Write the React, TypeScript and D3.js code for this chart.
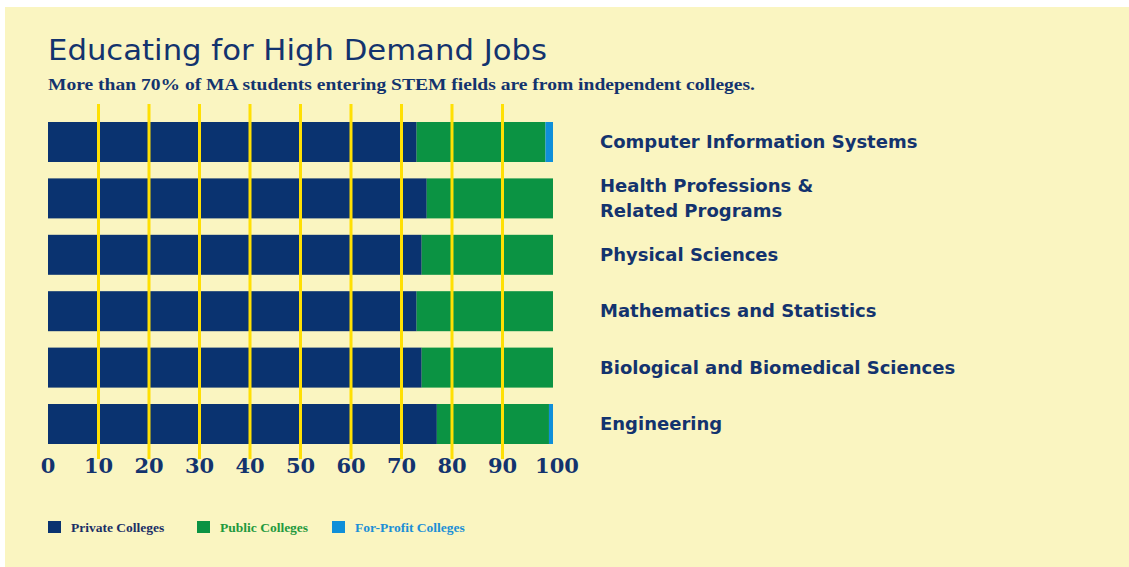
import React from "react";
import * as d3 from "d3";

const categories = [
  "Computer Information Systems",
  "Health Professions & Related Programs",
  "Physical Sciences",
  "Mathematics and Statistics",
  "Biological and Biomedical Sciences",
  "Engineering",
];
const categoryLines = [
  ["Computer Information Systems"],
  ["Health Professions &", "Related Programs"],
  ["Physical Sciences"],
  ["Mathematics and Statistics"],
  ["Biological and Biomedical Sciences"],
  ["Engineering"],
];
const privateShare = [73, 75, 74, 73, 74, 77];
const publicShare = [25.5, 25, 26, 27, 26, 22.2];
const forProfitShare = [1.5, 0, 0, 0, 0, 0.8];
const tickValues = [0, 10, 20, 30, 40, 50, 60, 70, 80, 90, 100];
const seriesKeys = ["private", "public", "forprofit"];
const seriesLabels = ["Private Colleges", "Public Colleges", "For-Profit Colleges"];

const COLORS: Record<string, string> = {
  private: "#0a3370",
  public: "#0b9343",
  forprofit: "#0f8fd9",
};
const LEGEND_TEXT: Record<string, string> = {
  private: "#1b2f66",
  public: "#1f9a3e",
  forprofit: "#1c8fd6",
};
const NAVY = "#13336e";
const BG = "#faf5c1";
const GRID = "#ffe003";

export default function App() {
  const W = 1129;
  const H = 567;
  const x = d3.scaleLinear().domain([0, 100]).range([48, 553]);
  const y = d3
    .scaleBand<string>()
    .domain(categories)
    .range([122, 444])
    .paddingInner(0.2908)
    .paddingOuter(0);

  const rows = categories.map((c, i) => ({
    category: c,
    private: privateShare[i],
    public: publicShare[i],
    forprofit: forProfitShare[i],
  }));
  const stacked = d3.stack<any>().keys(seriesKeys)(rows);

  const legendX = [48, 197, 332];

  return (
    <svg
      width={W}
      height={H}
      style={{ position: "absolute", left: 0, top: 0, display: "block" }}
    >
      <rect x={0} y={0} width={W} height={H} fill="#ffffff" />
      <rect x={5} y={7} width={W - 5} height={H - 7} fill={BG} />

      <text
        x={48}
        y={60}
        fontFamily="DejaVu Sans"
        fontSize={29}
        fill={NAVY}
        textLength={499}
        lengthAdjust="spacingAndGlyphs"
      >
        Educating for High Demand Jobs
      </text>
      <text
        x={48}
        y={90}
        fontFamily="Liberation Serif"
        fontWeight="bold"
        fontSize={16}
        fill={NAVY}
        textLength={707}
        lengthAdjust="spacingAndGlyphs"
      >
        More than 70% of MA students entering STEM fields are from independent colleges.
      </text>

      {stacked.map((s) => (
        <g key={s.key} fill={COLORS[s.key]}>
          {s.map((d, i) => (
            <rect
              key={i}
              x={x(d[0])}
              y={y(categories[i])}
              width={Math.max(0, x(d[1]) - x(d[0]))}
              height={y.bandwidth()}
            />
          ))}
        </g>
      ))}

      {tickValues
        .filter((t) => t > 0 && t < 100)
        .map((t) => (
          <line
            key={t}
            x1={x(t)}
            x2={x(t)}
            y1={104}
            y2={459}
            stroke={GRID}
            strokeWidth={3}
          />
        ))}

      {tickValues.map((t) => (
        <text
          key={t}
          x={x(t) + (t === 100 ? 4 : 0)}
          y={473}
          textAnchor="middle"
          fontFamily="DejaVu Serif"
          fontWeight="bold"
          fontSize={21}
          fill={NAVY}
        >
          {t}
        </text>
      ))}

      {categories.map((c, i) => {
        const lines = categoryLines[i];
        const cy = (y(c) as number) + y.bandwidth() / 2 + 6;
        const start = cy - ((lines.length - 1) * 25) / 2;
        return (
          <text
            key={c}
            x={600}
            fontFamily="DejaVu Sans"
            fontWeight="bold"
            fontSize={18}
            fill={NAVY}
          >
            {lines.map((ln, j) => (
              <tspan key={j} x={600} y={start + j * 25}>
                {ln}
              </tspan>
            ))}
          </text>
        );
      })}

      {seriesKeys.map((k, i) => (
        <g key={k}>
          <rect x={legendX[i]} y={521} width={13} height={12} fill={COLORS[k]} />
          <text
            x={legendX[i] + 23}
            y={531.5}
            fontFamily="Liberation Serif"
            fontWeight="bold"
            fontSize={13.5}
            fill={LEGEND_TEXT[k]}
          >
            {seriesLabels[i]}
          </text>
        </g>
      ))}
    </svg>
  );
}
